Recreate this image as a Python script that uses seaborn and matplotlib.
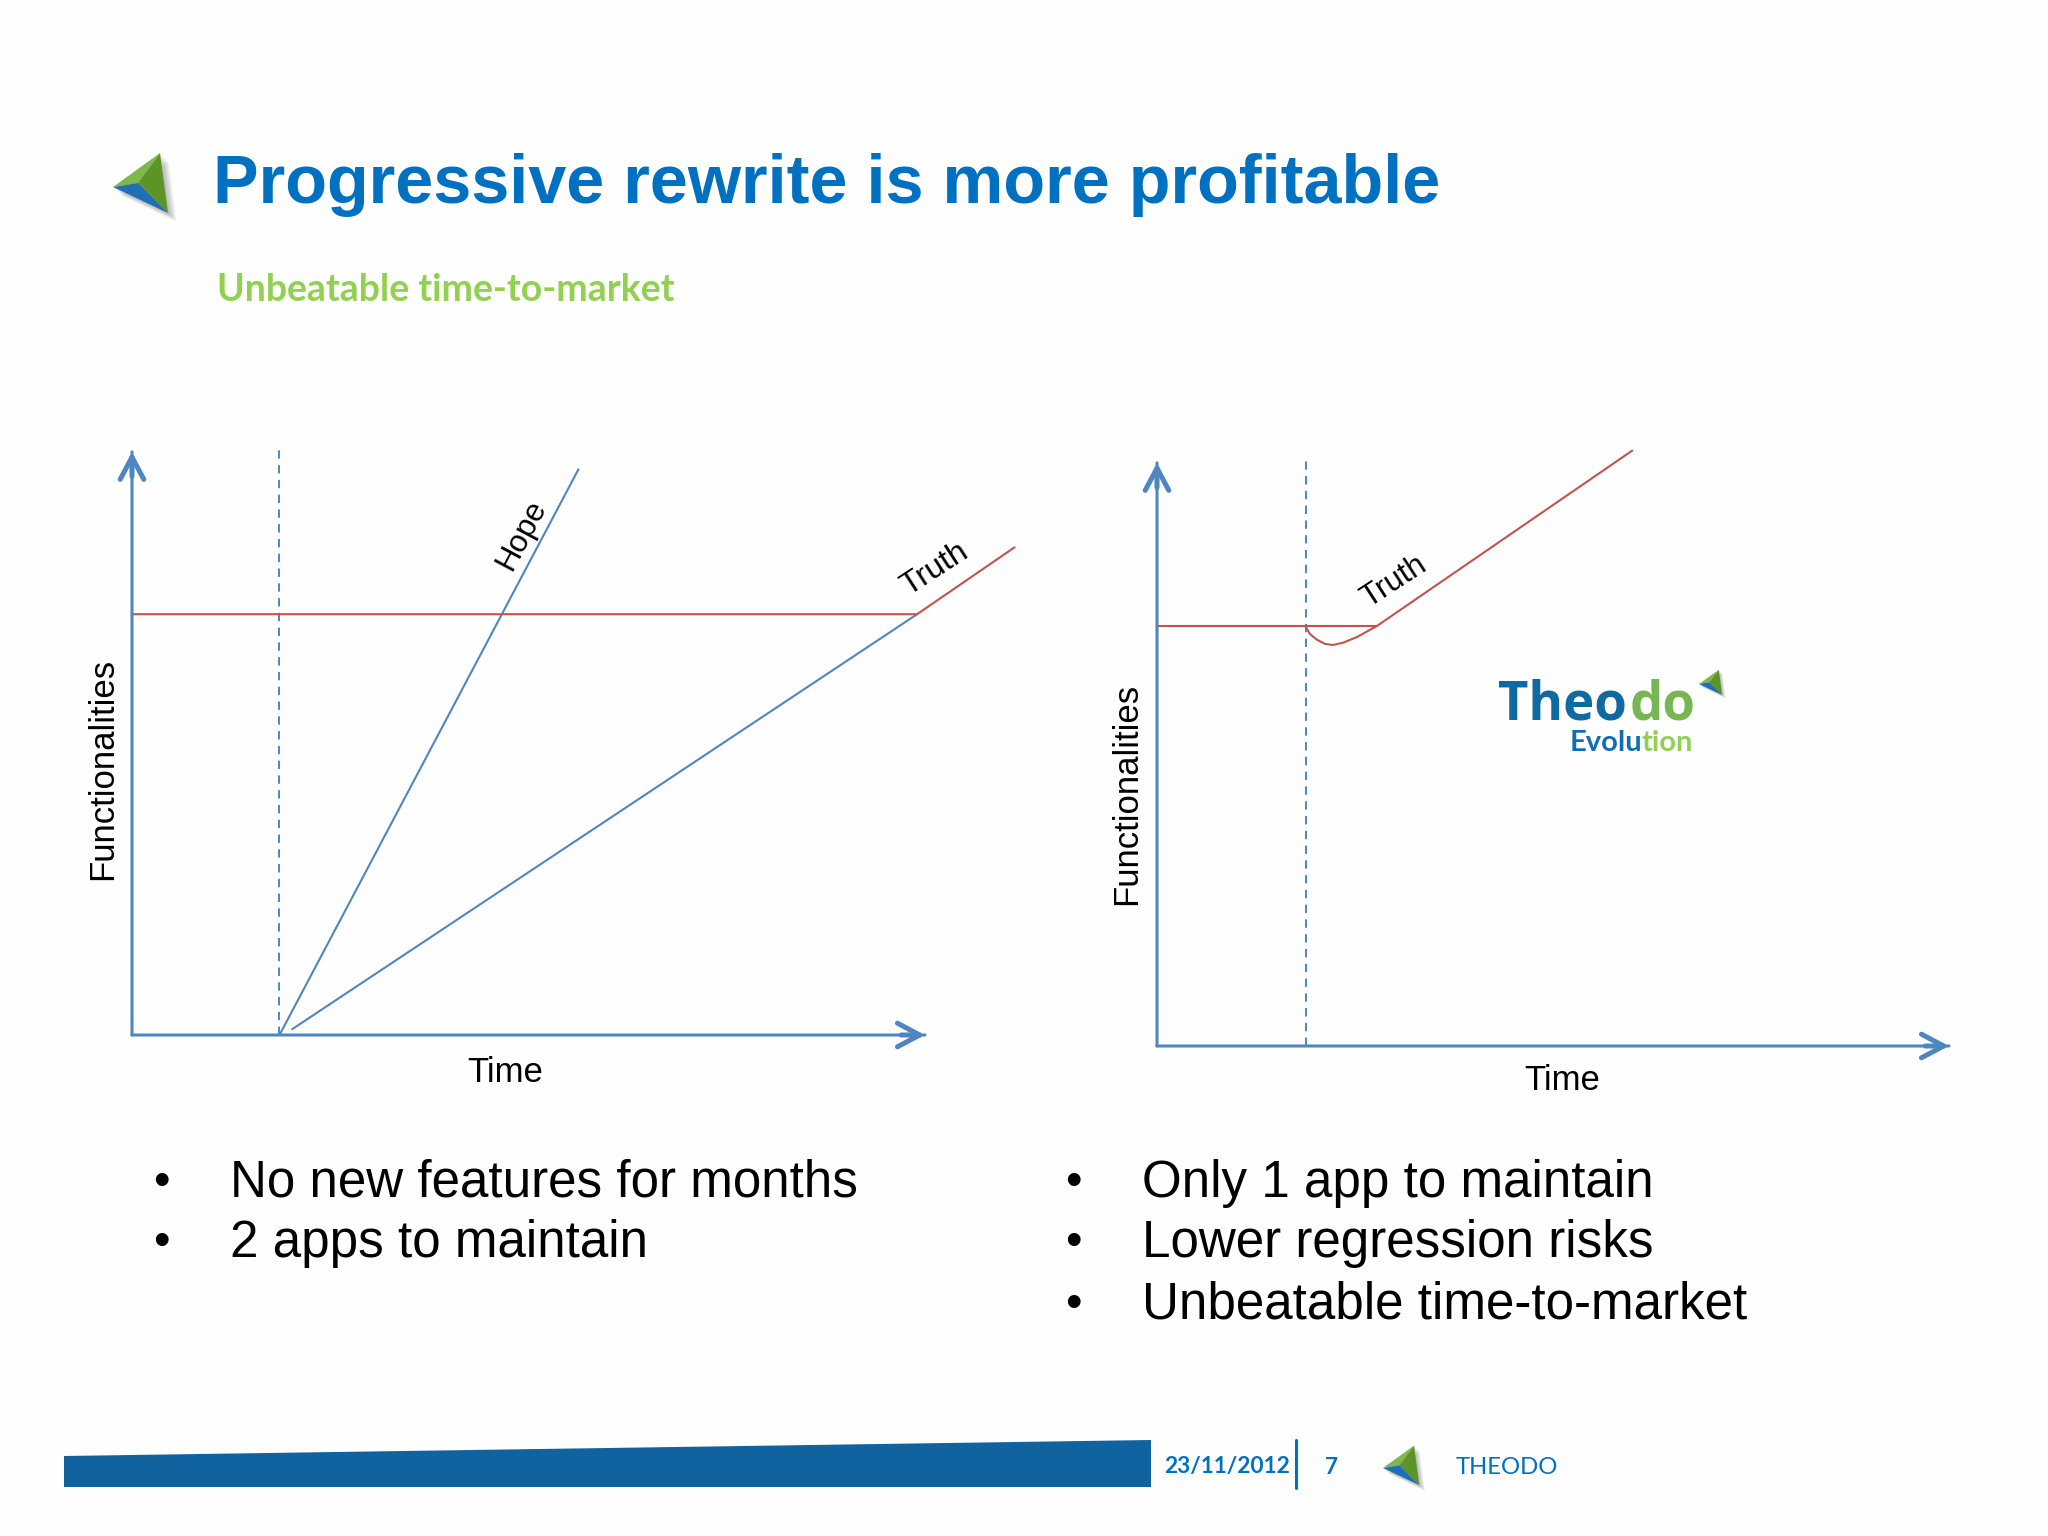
"""
Slide "Progressive rewrite is more profitable" refacut cu seaborn.
"""
import matplotlib
matplotlib.use("Agg")
import matplotlib.pyplot as plt
from matplotlib.patches import Polygon
import seaborn as sns

sns.set_theme(style="white")
plt.rcParams["font.family"] = ["Liberation Sans", "DejaVu Sans"]

BLUE = "#4F86C0"
RED = "#C4524E"
TITLE_BLUE = "#0070C0"
BAR_BLUE = "#11639F"
GREEN = "#92D050"

# date grafic stanga (timp, functionalitati)
left_start_time = 18.6
hope_time = [18.6, 56.3]
hope_func = [0, 97.2]
left_truth_time = [20.2, 99.0]
left_truth_func = [1.0, 72.3]
left_red_time = [0, 99.0, 111.3]
left_red_func = [72.3, 72.3, 83.8]

# date grafic dreapta
right_start_time = 18.75
flat_time = [0, 27.8]
flat_func = [72.2, 72.2]
right_truth_time = [18.7, 19.3, 20.2, 21.2, 22.2, 23.5, 25.3, 27.8, 60.0]
right_truth_func = [72.2, 70.8, 69.8, 69.1, 68.9, 69.3, 70.3, 72.2, 102.3]

left_bullets = ["No new features for months", "2 apps to maintain"]
right_bullets = ["Only 1 app to maintain", "Lower regression risks", "Unbeatable time-to-market"]

W, H = 2048, 1536
fig = plt.figure(figsize=(W / 100, H / 100), dpi=100, facecolor="#FEFEFE")

# strat de fundal in pixeli, pentru titlu, logo si subsol
bg = fig.add_axes([0, 0, 1, 1])
bg.set_xlim(0, W)
bg.set_ylim(H, 0)
bg.axis("off")


def draw_logo(x, y, s):
    # x, y = varful din stanga, s = scara fata de logo-ul din titlu
    top = (x + 47 * s, y - 34 * s)
    left = (x, y)
    bottom = (x + 55 * s, y + 26 * s)
    inner = (x + 25 * s, y - 4 * s)
    for k in range(1, 9):
        d = k * 1.1 * s
        bg.add_patch(Polygon([(px + d, py + d) for px, py in (top, left, bottom)],
                             closed=True, fc="#444444", ec="none", alpha=0.05, zorder=1))
    bg.add_patch(Polygon([top, left, inner], closed=True, fc="#7DB84A", ec="none", zorder=2))
    bg.add_patch(Polygon([top, inner, bottom], closed=True, fc="#5C9428", ec="none", zorder=2))
    bg.add_patch(Polygon([left, inner, bottom], closed=True, fc="#1F6FB5", ec="none", zorder=2))


draw_logo(113, 187, 1.0)
bg.text(213, 185, "Progressive rewrite is more profitable", fontsize=49.2, fontweight="bold",
        color=TITLE_BLUE, va="center", ha="left")
bg.text(217, 290, "Unbeatable time-to-market", fontsize=27, fontweight="bold",
        family=["Lato", "DejaVu Sans"], color=GREEN, va="center", ha="left")

# logo Theodo Evolution
bg.text(1498, 720, "Theo", fontsize=38, fontweight="bold", color="#0F6AA0",
        family=["Open Sans", "DejaVu Sans"], va="baseline", ha="left")
bg.text(1696, 720, "do", fontsize=38, fontweight="bold", color="#76B653",
        family=["Open Sans", "DejaVu Sans"], va="baseline", ha="right")
bg.text(1642, 751, "Evolu", fontsize=21, fontweight="bold", color="#0F6DB5",
        family=["Lato", "DejaVu Sans"], va="baseline", ha="right")
bg.text(1642, 751, "tion", fontsize=21, fontweight="bold", color=GREEN,
        family=["Lato", "DejaVu Sans"], va="baseline", ha="left")
draw_logo(1699, 684, 0.42)

# subsol
bg.add_patch(Polygon([(64, 1456), (1151, 1440), (1151, 1487), (64, 1487)],
                     closed=True, fc=BAR_BLUE, ec="none"))
bg.plot([1296, 1296], [1440, 1488], color=TITLE_BLUE, lw=2.2)
bg.text(1164, 1467, "23/11/2012", fontsize=16.3, fontweight="bold", color=TITLE_BLUE,
        family=["Lato", "DejaVu Sans"], va="center", ha="left")
bg.text(1332, 1468, "7", fontsize=16.3, fontweight="bold", color=TITLE_BLUE,
        family=["Lato", "DejaVu Sans"], va="center", ha="center")
draw_logo(1383, 1468, 0.66)
bg.text(1456, 1468, "THEODO", fontsize=17.2, color=TITLE_BLUE,
        family=["Lato", "DejaVu Sans"], va="center", ha="left")

# liste cu puncte
for i, row in enumerate(left_bullets):
    yy = [1183, 1243][i]
    bg.text(161, yy, "•", fontsize=34, color="black", va="center", ha="center")
    bg.text(230, yy, row, fontsize=36.8, color="black", va="center", ha="left")
for i, row in enumerate(right_bullets):
    yy = [1183, 1243, 1305][i]
    bg.text(1073, yy, "•", fontsize=34, color="black", va="center", ha="center")
    bg.text(1142, yy, row, fontsize=36.8, color="black", va="center", ha="left")


def chart_axes(x0, y0, width, height, start_time):
    # x0, y0 = originea in pixeli, y0 masurat de sus
    ax = fig.add_axes([x0 / W, (H - y0) / H, width / W, height / H])
    ax.patch.set_alpha(0)
    ax.set_xlim(0, 100)
    ax.set_ylim(0, 100)
    ax.set_xticks([])
    ax.set_yticks([])
    sns.despine(ax=ax, left=True, bottom=True)
    shaft = dict(arrowstyle="-", color=BLUE, lw=2.2, shrinkA=0, shrinkB=0)
    head = dict(arrowstyle="->,head_length=1.6,head_width=0.85", color=BLUE, lw=3.6,
                shrinkA=0, shrinkB=0, mutation_scale=10)
    ax.annotate("", xy=(100, 0), xytext=(0, 0), arrowprops=shaft, annotation_clip=False)
    ax.annotate("", xy=(0, 100.2), xytext=(0, 0), arrowprops=shaft, annotation_clip=False)
    ax.annotate("", xy=(100, 0), xytext=(97, 0), arrowprops=head, annotation_clip=False)
    ax.annotate("", xy=(0, 100.2), xytext=(0, 96), arrowprops=head, annotation_clip=False)
    ax.axvline(start_time, ymin=0, ymax=1.005, color=BLUE, lw=1.4, ls=(0, (4.3, 3.3)),
               clip_on=False)
    return ax


def draw_line(ax, xs, ys, color):
    sns.lineplot(x=xs, y=ys, ax=ax, color=color, lw=1.5, sort=False, estimator=None,
                 clip_on=False)


def add_labels(ax, xpos, ypos):
    # seaborn ascunde etichetele cand axa nu are ticks, deci visible=True
    ax.set_xlabel("Time", fontsize=25, color="black", visible=True, va="center")
    ax.set_ylabel("Functionalities", fontsize=25, color="black", visible=True, va="center")
    ax.xaxis.set_label_coords(*xpos)
    ax.yaxis.set_label_coords(*ypos)


ax1 = chart_axes(132, 1035, 793, 582, left_start_time)
draw_line(ax1, hope_time, hope_func, BLUE)
draw_line(ax1, left_truth_time, left_truth_func, BLUE)
draw_line(ax1, left_red_time, left_red_func, RED)
ax1.text(49.1, 85.9, "Hope", fontsize=22.5, color="black", rotation=62, ha="center", va="center")
ax1.text(101.2, 80.0, "Truth", fontsize=23, color="black", rotation=33, ha="center", va="center")
add_labels(ax1, (0.47, -0.064), (-0.037, 0.457))

ax2 = chart_axes(1157, 1046, 792, 582, right_start_time)
draw_line(ax2, flat_time, flat_func, RED)
draw_line(ax2, right_truth_time, right_truth_func, RED)
ax2.text(29.9, 79.7, "Truth", fontsize=22.5, color="black", rotation=33, ha="center", va="center")
add_labels(ax2, (0.511, -0.059), (-0.038, 0.433))

fig.savefig("out.png", dpi=100, facecolor=fig.get_facecolor())
